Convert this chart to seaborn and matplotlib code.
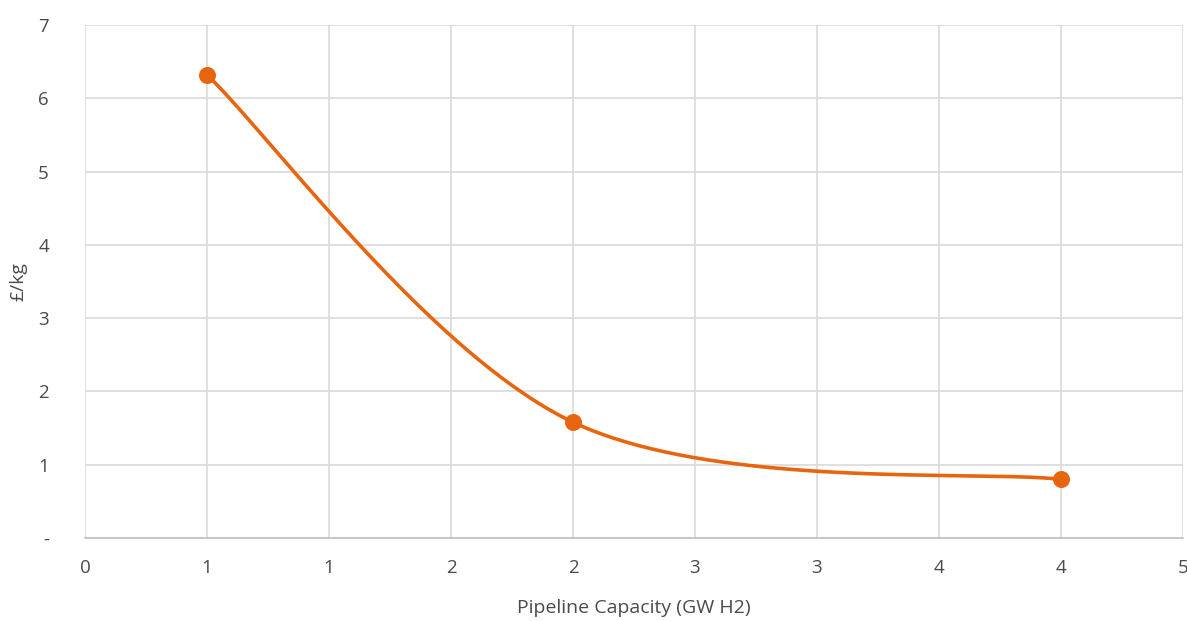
import numpy as np
import pandas as pd
import matplotlib
matplotlib.use("Agg")
import matplotlib.pyplot as plt
from matplotlib.ticker import FuncFormatter
import seaborn as sns

# Delivered hydrogen cost versus pipeline capacity
capacity_gw = [0.5, 2.0, 4.0]
cost_gbp_per_kg = [6.32, 1.58, 0.80]

x_ticks = [0, 0.5, 1.0, 1.5, 2.0, 2.5, 3.0, 3.5, 4.0, 4.5]
y_ticks = [0, 1, 2, 3, 4, 5, 6, 7]

ORANGE = "#E8650F"
GRID = "#D9D9D9"
TEXT = "#4A4A4A"

sns.set_style("white")
plt.rcParams["font.family"] = ["Open Sans", "DejaVu Sans"]


def smooth_curve(xs, ys, n=80):
    """Cubic Bezier smoothing through the points (spreadsheet-style)."""
    pts = np.column_stack([xs, ys]).astype(float)
    out = []
    m = len(pts)
    for i in range(m - 1):
        p0 = pts[i]
        p3 = pts[i + 1]
        prev = pts[i - 1] if i > 0 else pts[i]
        nxt = pts[i + 2] if i + 2 < m else pts[i + 1]
        c1 = p0 + (p3 - prev) / 6.0
        c2 = p3 - (nxt - p0) / 6.0
        t = np.linspace(0, 1, n)[:, None]
        seg = ((1 - t) ** 3) * p0 + 3 * ((1 - t) ** 2) * t * c1 + 3 * (1 - t) * t ** 2 * c2 + t ** 3 * p3
        out.append(seg if i == 0 else seg[1:])
    seg = np.vstack(out)
    return seg[:, 0], seg[:, 1]


sx, sy = smooth_curve(capacity_gw, cost_gbp_per_kg)
curve = pd.DataFrame({"x": sx, "y": sy})
points = pd.DataFrame({"x": capacity_gw, "y": cost_gbp_per_kg})

fig = plt.figure(figsize=(11.87, 6.21), dpi=100)
ax = fig.add_axes([85 / 1187, 83 / 621, 1098 / 1187, 513 / 621])

sns.lineplot(data=curve, x="x", y="y", sort=False, color=ORANGE, linewidth=2.6, ax=ax, zorder=3)
sns.scatterplot(data=points, x="x", y="y", color=ORANGE, s=150, edgecolor=ORANGE, linewidth=0, ax=ax, zorder=4)

ax.set_xlim(0, 4.5)
ax.set_ylim(0, 7)
ax.set_xticks(x_ticks)
ax.set_yticks(y_ticks)
ax.xaxis.set_major_formatter(FuncFormatter(lambda v, p: f"{int(np.floor(v + 0.5))}"))
ax.yaxis.set_major_formatter(FuncFormatter(lambda v, p: "-" if v == 0 else f"{int(v)}"))

ax.grid(True, color=GRID, linewidth=1.2)
ax.set_axisbelow(True)
for side in ["top", "right", "left"]:
    ax.spines[side].set_visible(False)
ax.spines["bottom"].set_color("#BFBFBF")
ax.spines["bottom"].set_linewidth(1.2)

ax.tick_params(axis="both", length=0, labelsize=13.5, labelcolor=TEXT)
ax.tick_params(axis="x", pad=15)
ax.tick_params(axis="y", pad=26)

ax.set_xlabel("Pipeline Capacity (GW H2)", fontsize=14, color=TEXT, labelpad=16)
ax.set_ylabel("£/kg", fontsize=14, color=TEXT, labelpad=8)

fig.savefig("out.png", dpi=100)
